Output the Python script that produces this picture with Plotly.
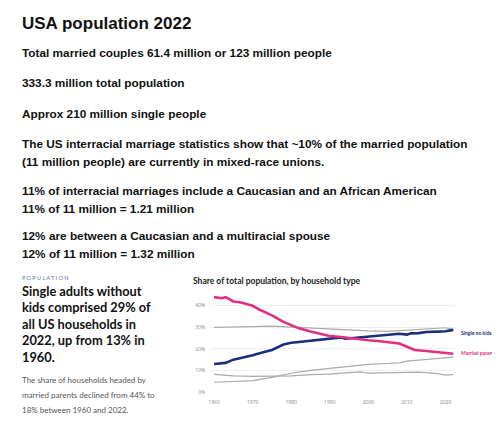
import plotly.graph_objects as go

married_years = [1960, 1962, 1963, 1965, 1967, 1970, 1972, 1975, 1978, 1980, 1982, 1985, 1988, 1990, 1993,
                 1995, 1998, 2000, 2003, 2005, 2008, 2010, 2012, 2015, 2018, 2020, 2022]
married = [44, 43.5, 44, 42, 41.5, 40, 38, 35.5, 32.5, 31, 29.5, 28, 27, 26, 25.5,
           25, 24.5, 24, 23.5, 23, 22.5, 21, 19.5, 19, 18.5, 18, 17.7]

single_years = [1960, 1963, 1965, 1968, 1970, 1973, 1975, 1978, 1980, 1982, 1985, 1988, 1990, 1993, 1994,
                1996, 1998, 2000, 2003, 2005, 2008, 2010, 2011, 2013, 2015, 2018, 2020, 2022]
single = [13, 13.5, 15, 16, 17, 18.5, 19.5, 22, 22.8, 23.2, 23.8, 24.3, 25, 25.3, 24.7,
          25, 25.5, 25.8, 26.2, 26.4, 27, 26.6, 27.2, 27.3, 27.8, 28, 28.2, 28.8]

g1_years = [1960, 1965, 1970, 1975, 1980, 1985, 1990, 1995, 1998, 2000, 2005, 2010, 2015, 2020, 2022]
g1 = [30, 30, 30.3, 30.5, 30, 29.8, 29.2, 28.8, 28.2, 28.3, 28.1, 28.7, 29, 29.8, 29]

g2_years = [1960, 1965, 1970, 1975, 1980, 1985, 1990, 1995, 1998, 2000, 2005, 2010, 2013, 2018, 2020, 2022]
g2 = [8.2, 7.5, 7.2, 7.3, 7.5, 8, 8.3, 9, 9.3, 8.7, 9, 9, 9.2, 8.5, 7.8, 8]

g3_years = [1960, 1965, 1970, 1975, 1980, 1985, 1990, 1995, 2000, 2005, 2008, 2010, 2015, 2020, 2022]
g3 = [4.5, 4.8, 5.3, 6.8, 8.7, 10, 11, 11.8, 12.8, 13.2, 13.5, 14.3, 15.2, 15.8, 16.2]

y_ticks = [0, 10, 20, 30, 40]
y_labels = ["0%", "10%", "20%", "30%", "40%"]
x_ticks = [1960, 1970, 1980, 1990, 2000, 2010, 2020]

top_lines = [
    ("Total married couples 61.4 million or 123 million people", 45),
    ("333.3 million total population", 76),
    ("Approx 210 million single people", 107),
    ("The US interracial marriage statistics show that ~10% of the married population", 137),
    ("(11 million people) are currently in mixed-race unions.", 155),
    ("11% of interracial marriages include a Caucasian and an African American", 184),
    ("11% of 11 million = 1.21 million", 202),
    ("12% are between a Caucasian and a multiracial spouse", 230),
    ("12% of 11 million = 1.32 million", 248),
]
headline = ["Single adults without", "kids comprised 29% of", "all US households in",
            "2022, up from 13% in", "1960."]
para = ["The share of households headed by", "married parents declined from 44% to",
        "18% between 1960 and 2022."]

W, H = 500, 425
def py(p):
    return 1 - p / H

fig = go.Figure()
for xs, ys in [(g1_years, g1), (g2_years, g2), (g3_years, g3)]:
    fig.add_trace(go.Scatter(x=xs, y=ys, mode="lines", line=dict(color="#aaaaaa", width=1.2),
                             showlegend=False, hoverinfo="skip"))
fig.add_trace(go.Scatter(x=single_years, y=single, mode="lines",
                         line=dict(color="#1b2f7a", width=2.6), showlegend=False))
fig.add_trace(go.Scatter(x=married_years, y=married, mode="lines",
                         line=dict(color="#e0307f", width=2.6), showlegend=False))

ann = []
ann.append(dict(text="<b>USA population 2022</b>", x=10 / W, y=py(16), font=dict(size=17)))
for t, p in top_lines:
    ann.append(dict(text="<b>" + t + "</b>", x=10 / W, y=py(p), font=dict(size=11.8)))
ann.append(dict(text="P O P U L A T I O N", x=10 / W, y=py(272), font=dict(size=5.5, color="#5a6fa0")))
for i, t in enumerate(headline):
    ann.append(dict(text="<b>" + t + "</b>", x=10 / W, y=py(285 + i * 16.5), font=dict(size=12.8)))
for i, t in enumerate(para):
    ann.append(dict(text=t, x=10 / W, y=py(375 + i * 15), font=dict(size=8, color="#555555")))
ann.append(dict(text="<b>Share of total population, by household type</b>", x=182 / W, y=py(275),
                font=dict(size=8.5, color="#222222")))
ann.append(dict(text="<b>Single no kids</b>", x=451 / W, y=py(327), font=dict(size=5, color="#1b2f7a")))
ann.append(dict(text="<b>Married parents</b>", x=451 / W, y=py(347), font=dict(size=5, color="#e0307f")))
for a in ann:
    a.update(xref="paper", yref="paper", xanchor="left", yanchor="middle", showarrow=False)
    a["font"].setdefault("color", "#111111")
    a["font"]["family"] = "Liberation Sans, Arial" if a["y"] > py(260) else "Source Sans Pro, Lato, sans-serif"

fig.update_layout(
    width=W, height=H, margin=dict(l=0, r=0, t=0, b=0),
    plot_bgcolor="white", paper_bgcolor="white", annotations=ann,
    xaxis=dict(domain=[201 / W, 447 / W], range=[1959, 2022.5], tickvals=x_ticks, showgrid=False,
               tickfont=dict(size=5, color="#888888"), zeroline=False, showline=False,
               ticklabelstandoff=6),
    yaxis=dict(domain=[1 - 386.7 / H, 1 - 289 / H], range=[0, 45], tickvals=y_ticks, ticktext=y_labels,
               gridcolor="#eeeeee", tickfont=dict(size=5, color="#888888"), zeroline=False,
               ticklabelstandoff=4),
)
fig.write_html("out.html")
